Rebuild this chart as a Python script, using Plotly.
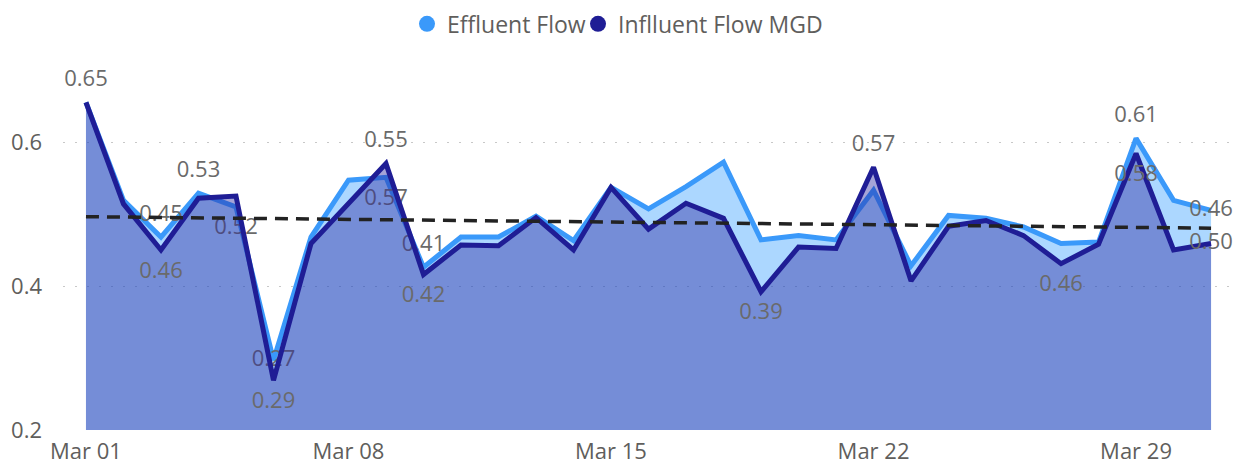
import numpy as np
import pandas as pd
import plotly.graph_objects as go

# ---------------- data ----------------
dates = pd.date_range("2024-03-01", "2024-03-31", freq="D")

effluent = [0.655, 0.519, 0.468, 0.529, 0.510, 0.297, 0.468, 0.547, 0.551, 0.426,
            0.468, 0.468, 0.497, 0.463, 0.537, 0.507, 0.538, 0.572, 0.464, 0.470,
            0.464, 0.533, 0.428, 0.498, 0.494, 0.482, 0.459, 0.461, 0.605, 0.519,
            0.505]

influent = [0.655, 0.514, 0.450, 0.522, 0.525, 0.269, 0.459, 0.514, 0.570, 0.416,
            0.457, 0.456, 0.495, 0.450, 0.537, 0.479, 0.515, 0.494, 0.392, 0.454,
            0.452, 0.565, 0.407, 0.483, 0.491, 0.470, 0.431, 0.458, 0.584, 0.450,
            0.459]

# data labels as shown on the chart (day of month -> text)
effluent_labels = {3: "0.45", 4: "0.53", 5: "0.52", 6: "0.27", 9: "0.57",
                   10: "0.41", 29: "0.61", 31: "0.46"}
influent_labels = {1: "0.65", 3: "0.46", 6: "0.29", 9: "0.55", 10: "0.42",
                   19: "0.39", 22: "0.57", 27: "0.46", 29: "0.58", 31: "0.50"}

series_names = ["Effluent Flow", "Inflluent Flow MGD"]
y_ticks = [0.2, 0.4, 0.6]

# ---------------- styling ----------------
EFF_LINE = "#3A99FA"
INF_LINE = "#1F1D95"
EFF_FILL = "rgba(17,141,255,0.35)"
INF_FILL = "rgba(40,38,160,0.42)"
TEXT = "#605E5C"
LABEL = "#6A6A6A"
FONT = "Open Sans"

eff_pos_map = {3: "top center", 4: "top center", 5: "bottom center", 6: "middle center",
               9: "bottom center", 10: "top center", 29: "top center", 31: "middle center"}
inf_pos_map = {1: "top center", 3: "bottom center", 6: "bottom center", 9: "top center",
               10: "bottom center", 19: "bottom center", 22: "top center",
               27: "bottom center", 29: "bottom center", 31: "middle center"}

days = list(dates.day)
eff_text = [effluent_labels.get(d, "") for d in days]
inf_text = [influent_labels.get(d, "") for d in days]
eff_pos = [eff_pos_map.get(d, "top center") for d in days]
inf_pos = [inf_pos_map.get(d, "top center") for d in days]

# trend line over both series
idx = np.arange(len(dates))
xx = np.concatenate([idx, idx])
yy = np.concatenate([effluent, influent])
slope, intercept = np.polyfit(xx, yy, 1)
trend = intercept + slope * idx

fig = go.Figure()

for yv, nm, lc, fc, tx, tp in [
    (effluent, series_names[0], EFF_LINE, EFF_FILL, eff_text, eff_pos),
    (influent, series_names[1], INF_LINE, INF_FILL, inf_text, inf_pos),
]:
    fig.add_trace(go.Scatter(
        x=dates, y=yv, mode="lines+markers+text", name=nm,
        line=dict(color=lc, width=5), fill="tozeroy", fillcolor=fc,
        marker=dict(size=16, color="rgba(0,0,0,0)"),
        text=tx, textposition=tp, cliponaxis=False,
        textfont=dict(family=FONT, size=22, color=LABEL),
        showlegend=False, hoverinfo="x+y",
    ))

fig.add_trace(go.Scatter(
    x=[dates[0], dates[-1]], y=[trend[0], trend[-1]], mode="lines",
    line=dict(color="#222222", width=3.5, dash="13px,8px"),
    showlegend=False, hoverinfo="skip",
))

# legend entries (circles)
for nm, col, lw in zip(series_names, [EFF_LINE, INF_LINE], [126, 220]):
    fig.add_trace(go.Scatter(
        x=[None], y=[None], mode="markers", name=nm,
        marker=dict(color=col, size=20, symbol="circle"),
        showlegend=True, legendwidth=lw,
    ))

pad_left = pd.Timedelta(hours=14.7)
pad_right = pd.Timedelta(hours=16.6)

fig.update_layout(
    width=1239, height=468,
    margin=dict(l=63, r=2, t=70, b=38),
    plot_bgcolor="white", paper_bgcolor="white",
    font=dict(family=FONT, size=22, color=TEXT),
    legend=dict(orientation="h", xref="container", x=407 / 1239, xanchor="left",
                yref="container", y=0.995, yanchor="top",
                font=dict(family=FONT, size=23, color=TEXT),
                itemsizing="trace", traceorder="normal", itemwidth=30,
                bgcolor="rgba(0,0,0,0)"),
    xaxis=dict(
        type="date", range=[dates[0] - pad_left, dates[-1] + pad_right],
        tick0=dates[0], dtick=7 * 86400000, tickformat="%b %d",
        showgrid=False, zeroline=False, showline=False, ticks="",
        automargin=False, ticklabelstandoff=6,
        tickfont=dict(family=FONT, size=22, color=TEXT),
    ),
    yaxis=dict(
        range=[0.2, 0.7], tickvals=y_ticks, tickformat=".1f",
        showgrid=True, gridcolor="#C8C8C8", gridwidth=1, griddash="2px,10px",
        zeroline=False, showline=False, ticks="", ticklabelstandoff=20,
        automargin=False,
        tickfont=dict(family=FONT, size=22, color=TEXT),
    ),
)

fig.write_html("out.html", config={"displayModeBar": False},
               post_script="document.body.style.margin='0px';document.body.style.overflow='hidden';")
